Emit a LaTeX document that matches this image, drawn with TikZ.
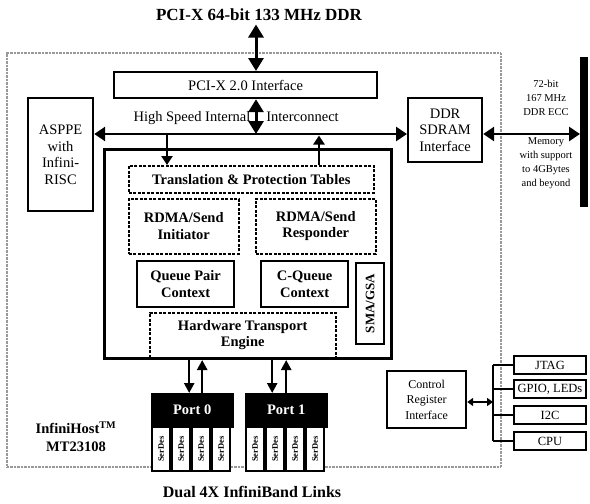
\documentclass[tikz,border=0pt]{standalone}
\usepackage{fontspec}
\setmainfont{Liberation Serif}
\usetikzlibrary{arrows.meta}

\begin{document}
\begin{tikzpicture}[x=1pt, y=-1pt,
  box/.style={draw, line width=2.2pt, fill=white, align=center, inner sep=0pt, anchor=north west,
    font=\fontsize{14.5}{16.5}\selectfont},
  bbox/.style={box, font=\fontsize{14.5}{16.5}\selectfont\bfseries},
  dbox/.style={bbox, line width=1.5pt, dash pattern=on 3pt off 1.5pt},
  rbox/.style={box, line width=2pt, minimum width=72pt, minimum height=18pt, font=\fontsize{12.5}{14}\selectfont},
  port/.style={draw, fill=black, text=white, inner sep=0pt, anchor=north west, minimum width=82pt,
    minimum height=34pt, font=\fontsize{14.5}{16}\selectfont\bfseries},
  serdes/.style={draw, line width=1.2pt, fill=white, rotate=90, inner sep=0pt, minimum width=44pt,
    minimum height=18pt, font=\fontsize{8.5}{9}\selectfont\bfseries},
  memtxt/.style={align=center, font=\fontsize{10.5}{14}\selectfont},
  bus/.style={line width=2.8pt, >={Triangle[length=11pt,width=14pt]}, <->},
  vbus/.style={line width=3pt, >={Triangle[length=13pt,width=15pt]}, <->},
  arr/.style={line width=2.6pt, >={Triangle[length=9pt,width=11pt]}, ->},
  parr/.style={line width=2.4pt, >={Triangle[length=10pt,width=10pt]}, ->},
  ctl/.style={line width=2pt, >={Triangle[length=6pt,width=8pt]}, <->},
  wire/.style={line width=1.4pt}]
  \useasboundingbox (0,0) rectangle (590,504);
  % Chip outline
  \node[draw=gray!80, line width=1.8pt, dash pattern=on 0.8pt off 0.6pt, inner sep=0pt, anchor=north west,
    minimum width=494pt, minimum height=414pt] (chip) at (6,52) {};
  % Labels
  \node[font=\fontsize{17}{20}\selectfont\bfseries] (pcix) at (259,15) {PCI-X 64-bit 133 MHz DDR};
  \node[font=\fontsize{16}{19}\selectfont\bfseries] (iblinks) at (252,492) {Dual 4X InfiniBand Links};
  \node[align=center, font=\fontsize{14.5}{18}\selectfont\bfseries] (ihost) at (76,437) {InfiniHost\textsuperscript{TM}\\MT23108};
  \node[anchor=west, font=\fontsize{14.5}{16.5}\selectfont] (hsii) at (130,118) {High Speed Internal\hspace{16pt}Interconnect};
  \node[memtxt] (memhi) at (546,98) {72-bit\\167 MHz\\DDR ECC};
  \node[memtxt] (memlo) at (546,163) {Memory\\with support\\to 4GBytes\\and beyond};
  % Outer blocks
  \node[box, minimum width=263pt, minimum height=26pt] (pci) at (113,71) {PCI-X 2.0 Interface};
  \node[box, minimum width=65pt, minimum height=113pt] (asppe) at (27,97) {ASPPE\\with\\Infini-\\RISC};
  \node[box, minimum width=74pt, minimum height=64pt] (ddr) at (407,97) {DDR\\SDRAM\\Interface};
  \node[fill=black, inner sep=0pt, anchor=north west, minimum width=8pt, minimum height=150pt] (membar) at (580,57) {};
  % Core blocks
  \node[dbox, minimum width=245pt, minimum height=27pt] (xlat) at (128,165) {Translation \& Protection Tables};
  \node[dbox, minimum width=110pt, minimum height=55pt] (rinit) at (128,198) {RDMA/Send\\Initiator};
  \node[dbox, minimum width=120pt, minimum height=55pt] (rresp) at (255,198) {RDMA/Send\\Responder};
  \node[bbox, minimum width=97pt, minimum height=46pt] (qpc) at (136,260) {Queue Pair\\Context};
  \node[bbox, minimum width=87pt, minimum height=46pt] (cqc) at (260,260) {C-Queue\\Context};
  \node[bbox, minimum width=28pt, minimum height=81pt, font=\fontsize{13}{15}\selectfont\bfseries] (smagsa) at (355,262) {\rotatebox{90}{SMA/GSA}};
  \node[dbox, minimum width=186pt, minimum height=45pt] (hte) at (149,312) {Hardware Transport\\Engine};
  \node[draw, line width=3pt, inner sep=0pt, anchor=north west, minimum width=287pt, minimum height=209pt] (core) at (103,148) {};
  % Ports
  \node[port] (port0) at (151,393) {Port 0};
  \node[port] (port1) at (245,393) {Port 1};
  \foreach \i in {0,...,3} {
    \node[serdes] (p0s\i) at (161+\i*20,449) {SerDes};
    \node[serdes] (p1s\i) at (255+\i*20,449) {SerDes};
  }
  % Control and side interfaces
  \node[box, minimum width=79pt, minimum height=57pt, font=\fontsize{12}{15.5}\selectfont] (ctrl) at (386,370) {Control\\Register\\Interface};
  \node[rbox] (jtag) at (513,355) {JTAG};
  \node[rbox] (gpio) at (513,379) {GPIO, LEDs};
  \node[rbox] (i2c) at (513,405) {I2C};
  \node[rbox] (cpu) at (513,431) {CPU};
  % Connectors
  \coordinate (bus) at (256,134);
  \coordinate (tapl) at (167,134);
  \coordinate (tapr) at (319,135.5);
  \coordinate (brk) at (493,402);
  \draw[vbus] (pcix.south -| bus) -- (pci.north -| bus);
  \draw[vbus] (pci.south -| bus) -- (bus);
  \draw[bus] (asppe.east |- bus) -- (ddr.west |- bus);
  \draw[bus] (ddr.east |- bus) -- (membar.west |- bus);
  \draw[arr] (tapl) -- (xlat.north -| tapl);
  \draw[arr] (xlat.north -| tapr) -- (tapr);
  \draw[parr] ([xshift=-3pt]port0.north |- core.south) -- ([xshift=-3pt]port0.north);
  \draw[parr] ([xshift=10pt]port0.north) -- ([xshift=10pt]port0.north |- core.south);
  \draw[parr] ([xshift=-14pt]port1.north |- core.south) -- ([xshift=-14pt]port1.north);
  \draw[parr] ([xshift=0pt]port1.north) -- ([xshift=0pt]port1.north |- core.south);
  \draw[ctl] (ctrl.east |- brk) -- (brk);
  \draw[wire] (jtag.west -| brk) -- (cpu.west -| brk);
  \foreach \n in {jtag,gpio,i2c,cpu}
    \draw[wire] (\n.west) -- (\n.west -| brk);
\end{tikzpicture}
\end{document}
